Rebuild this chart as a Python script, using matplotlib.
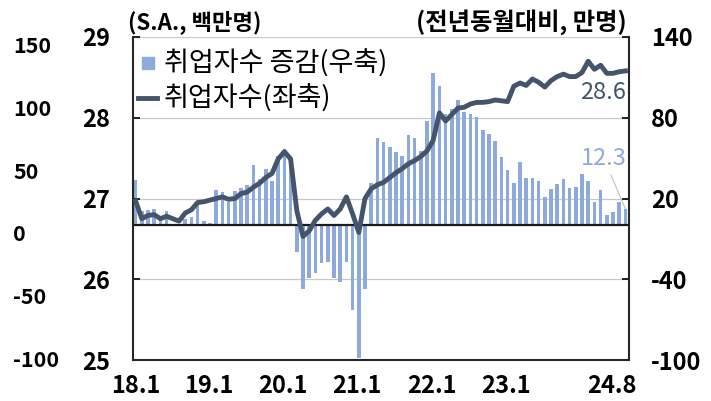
import numpy as np
import matplotlib
matplotlib.use("Agg")
import matplotlib.pyplot as plt
from matplotlib.lines import Line2D

plt.rcParams['font.family'] = ['Noto Sans CJK KR', 'DejaVu Sans']
plt.rcParams['axes.unicode_minus'] = False

# 취업자수 (S.A., 백만명), 2018.1 ~ 2024.8
employed = [
    26.97, 26.75, 26.79, 26.80, 26.75, 26.78, 26.75, 26.72, 26.82, 26.86, 26.95, 26.96,
    26.98, 27.00, 27.02, 26.99, 27.00, 27.06, 27.08, 27.14, 27.19, 27.26, 27.31, 27.49,
    27.58, 27.49, 26.85, 26.53, 26.60, 26.73, 26.81, 26.87, 26.79, 26.87, 27.02, 26.81,
    26.58, 27.00, 27.12, 27.17, 27.20, 27.26, 27.32, 27.37, 27.43, 27.47, 27.52, 27.59,
    27.72, 28.06, 27.96, 28.04, 28.12, 28.13, 28.17, 28.19, 28.19, 28.20, 28.22, 28.21,
    28.20, 28.39, 28.43, 28.40, 28.48, 28.44, 28.38, 28.46, 28.51, 28.54, 28.51, 28.51,
    28.56, 28.70, 28.60, 28.65, 28.55, 28.55, 28.57, 28.58,
]
# 취업자수 증감 (전년동월대비, 만명)
change = [
    33.4, 10.4, 11.2, 12.3, 7.2, 10.6, 0.5, 0.3, 4.5, 6.4, 16.5, 3.4,
    1.9, 26.3, 25.0, 17.1, 25.9, 28.1, 29.9, 45.2, 34.8, 41.9, 33.1, 51.6,
    56.8, 49.2, -19.5, -47.6, -39.2, -35.2, -27.7, -27.4, -39.2, -42.1, -27.3, -62.8,
    -98.2, -47.3, 31.4, 65.2, 61.9, 58.2, 54.2, 51.8, 67.1, 65.2, 55.3, 77.3,
    113.5, 103.7, 83.1, 86.5, 93.5, 84.1, 82.6, 80.7, 70.7, 67.7, 62.6, 50.9,
    41.1, 31.2, 46.9, 35.4, 35.1, 33.3, 21.1, 26.8, 30.9, 34.6, 27.7, 28.3,
    38.0, 32.9, 17.3, 26.1, 8.0, 9.6, 17.2, 12.3,
]
xlabels = ['18.1', '19.1', '20.1', '21.1', '22.1', '23.1', '24.8']
xlabel_pos = [0, 11.75, 23.75, 35.75, 47.75, 59.75, 76.75]
left_ticks = [25, 26, 27, 28, 29]
right_ticks = [-100, -40, 20, 80, 140]
outer_ticks = [-100, -50, 0, 50, 100, 150]

bar_color = '#8EAADC'
line_color = '#44546A'
grid_color = '#C8C8C8'

x = np.arange(len(employed))

fig = plt.figure(figsize=(7.11, 4.01), dpi=100)
ax = fig.add_axes([132.5 / 711, 41 / 401, 496 / 711, 323 / 401])
ax2 = ax.twinx()
ax3 = ax.twinx()

# bars (right axis)
ax2.bar(x, change, width=0.55, color=bar_color, zorder=2)
ax2.axhline(0, color='#1a1a1a', lw=1.6, zorder=3)
ax2.set_ylim(-100, 140)
ax2.set_yticks(right_ticks)
ax2.set_axisbelow(True)
ax2.grid(axis='y', color=grid_color, lw=0.9)
ax2.grid(axis='x', which='minor', color=grid_color, lw=0.9)
ax2.tick_params(axis='y', direction='in', length=5, width=1.2, pad=16,
                labelsize=17)
for lab in ax2.get_yticklabels():
    lab.set_fontweight('bold')

# line (left axis)
ax.set_zorder(ax2.get_zorder() + 1)
ax.patch.set_visible(False)
ax.plot(x, employed, color=line_color, lw=3.5, zorder=4)
ax.set_ylim(25, 29)
ax.set_xlim(-0.5, len(employed) - 0.5)
ax.set_yticks(left_ticks)
ax.set_xticks(xlabel_pos)
ax.set_xticklabels(xlabels)
ax.set_xticks(np.arange(11.5, len(employed) - 1, 12), minor=True)
ax.tick_params(axis='y', direction='in', length=5, width=1.2, pad=16,
               labelsize=17)
ax.tick_params(axis='x', which='both', length=0, pad=10, labelsize=17)
for lab in ax.get_yticklabels() + ax.get_xticklabels():
    lab.set_fontweight('bold')

# stray outer scale on the far left
ax3.set_zorder(ax2.get_zorder() - 1)
ax3.set_ylim(-101.2, 156)
ax3.yaxis.set_ticks_position('left')
ax3.set_yticks(outer_ticks)
ax3.tick_params(axis='y', length=0, pad=86, labelsize=15.5)
for lab in ax3.get_yticklabels():
    lab.set_ha('left')
    lab.set_fontweight('bold')

for a in (ax, ax2, ax3):
    a.spines['top'].set_visible(False)
for s in ('left', 'right', 'bottom'):
    ax3.spines[s].set_visible(False)
ax.spines['right'].set_visible(False)
ax2.spines['left'].set_visible(False)
ax2.spines['bottom'].set_visible(False)
for s in ('left', 'bottom'):
    ax.spines[s].set_color('#262626')
    ax.spines[s].set_linewidth(1.5)
ax2.spines['right'].set_color('#262626')
ax2.spines['right'].set_linewidth(1.5)

# unit labels
ax.text(-0.009, 1.046, '(S.A., 백만명)', transform=ax.transAxes, ha='left',
        va='center', fontsize=16, fontweight='bold')
ax.text(0.997, 1.046, '(전년동월대비, 만명)', transform=ax.transAxes, ha='right',
        va='center', fontsize=17.5, fontweight='bold')

# end labels
ax.text(75.4, 28.31, f'{employed[-1]:.1f}', color=line_color, fontsize=17,
        fontweight='medium', ha='center', va='center')
ax2.annotate(f'{change[-1]:.1f}', xy=(x[-1], change[-1]), xytext=(75.5, 50),
             color=bar_color, fontsize=17, fontweight='medium',
             ha='center', va='center',
             arrowprops=dict(arrowstyle='-', color='#BFBFBF', lw=0.8,
                             shrinkA=2, shrinkB=0))

handles = [
    Line2D([], [], marker='s', ls='none', color=bar_color, markersize=8.5),
    Line2D([], [], color=line_color, lw=3.5),
]
leg = ax.legend(handles, ['취업자수 증감(우축)', '취업자수(좌축)'], loc='upper left',
                bbox_to_anchor=(-0.005, 0.985), frameon=False,
                prop={'size': 19.5, 'weight': 'medium'},
                handlelength=0.7, handletextpad=0.25, labelspacing=0.25,
                borderaxespad=0.0, borderpad=0.3)

fig.savefig('out.png', dpi=100)
